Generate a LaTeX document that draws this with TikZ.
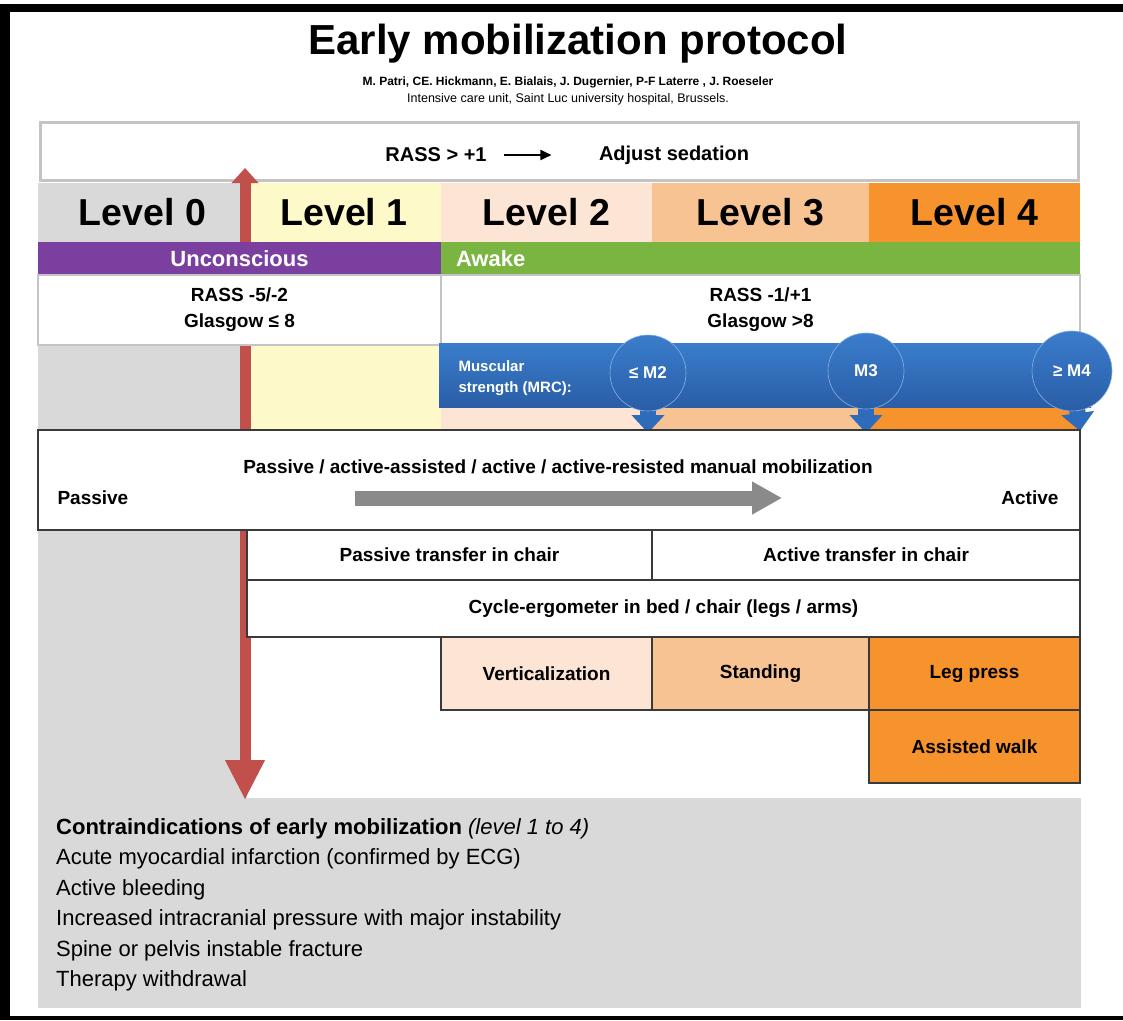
\documentclass[tikz,border=0pt]{standalone}
\usepackage{fontspec}
\setmainfont{Liberation Sans}
\usetikzlibrary{arrows.meta}
\definecolor{lvlzero}{HTML}{D9D9D9}
\definecolor{lvlone}{HTML}{FDF9C9}
\definecolor{lvltwo}{HTML}{FCE5D5}
\definecolor{lvlthree}{HTML}{F8C393}
\definecolor{lvlfour}{HTML}{F7932C}
\definecolor{purp}{HTML}{7A3F9F}
\definecolor{grn}{HTML}{7AB441}
\definecolor{bluetop}{HTML}{3A7DCC}
\definecolor{bluebot}{HTML}{2A5DA6}
\definecolor{bluemid}{HTML}{2F6BBB}
\definecolor{redarr}{HTML}{C1504D}
\definecolor{boxgray}{HTML}{C4C4C4}
\definecolor{edge}{HTML}{3A3A3A}
\definecolor{grayarr}{HTML}{8A8A8A}
\begin{document}
\begin{tikzpicture}[x=1pt,y=-1pt,
  cell/.style={anchor=north west, inner sep=0pt, outer sep=0pt, align=center, text=black},
  lvltxt/.style={font=\fontsize{37.5}{40}\selectfont\bfseries},
  boxtxt/.style={font=\fontsize{19}{22}\selectfont\bfseries},
  thinbox/.style={draw=edge, line width=1.3pt},
  whitetxt/.style={text=white, font=\fontsize{22}{26}\selectfont\bfseries},
  mcircle/.style={circle, minimum size=76pt, inner sep=0pt, top color=bluetop, bottom color=bluebot, draw=bluetop!60!white, line width=0.6pt, text=white, font=\fontsize{17}{20}\selectfont\bfseries},
  bluearrow/.style={draw=bluemid, line width=16pt, -{Triangle[width=32pt,length=18pt]}},
]
\useasboundingbox (0,0) rectangle (1123,1020);
\fill[white] (0,0) rectangle (1123,1020);
% frame
\fill[black] (0,4) rectangle (1123,12);
\fill[black] (0,4) rectangle (10,1020);
\fill[black] (0,1016) rectangle (1123,1020);

% title
\node[font=\fontsize{42}{46}\selectfont\bfseries] (title) at (578,44) {Early mobilization protocol};
\node[font=\fontsize{12}{14}\selectfont\bfseries] (authors) at (568,82) {M. Patri, CE. Hickmann, E. Bialais, J. Dugernier, P-F Laterre , J. Roeseler};
\node[font=\fontsize{12.5}{14}\selectfont] (affil) at (568,99) {Intensive care unit, Saint Luc university hospital, Brussels.};

% left gray column and bottom box
\fill[lvlzero] (38,183) rectangle (247,798);
\node[cell, fill=lvlzero, minimum width=1043pt, minimum height=210pt] (contra) at (38,798) {};
\node[anchor=north west, inner sep=0pt, align=left, font=\fontsize{22}{30.5}\selectfont] (contratxt) at (56,818)
 {{\bfseries Contraindications of early mobilization} \textit{(level 1 to 4)}\\
  Acute myocardial infarction (confirmed by ECG)\\
  Active bleeding\\
  Increased intracranial pressure with major instability\\
  Spine or pelvis instable fracture\\
  Therapy withdrawal};

% column backgrounds under the bars
\fill[lvlone] (247,345) rectangle (441,430);
\fill[lvltwo] (441,345) rectangle (652,430);
\fill[lvlthree] (652,345) rectangle (869,430);
\fill[lvlfour] (869,345) rectangle (1080,430);

% RASS bar
\node[cell, fill=white, draw=boxgray, line width=3pt, minimum width=1038pt, minimum height=58pt] (rassbar) at (40,122) {};
\node[font=\fontsize{20}{24}\selectfont\bfseries] (rassL) at (436,155) {RASS > +1};
\node[font=\fontsize{20}{24}\selectfont\bfseries] (rassR) at (674,155) {Adjust sedation};
\draw[line width=1.8pt, -{Triangle[width=10pt,length=11pt]}] (rassL.east) ++(14,0) coordinate (ra1) (ra1) -- ([xshift=-44pt]rassR.west);

% levels
\node[cell, lvltxt, fill=lvlzero, minimum width=209pt, minimum height=59pt] (l0) at (38,183) {Level 0};
\node[cell, lvltxt, fill=lvlone, minimum width=194pt, minimum height=59pt] (l1) at (247,183) {Level 1};
\node[cell, lvltxt, fill=lvltwo, minimum width=211pt, minimum height=59pt] (l2) at (441,183) {Level 2};
\node[cell, lvltxt, fill=lvlthree, minimum width=217pt, minimum height=59pt] (l3) at (652,183) {Level 3};
\node[cell, lvltxt, fill=lvlfour, minimum width=211pt, minimum height=59pt] (l4) at (869,183) {Level 4};

% red double arrow
\coordinate (redtop) at (245,168);
\coordinate (redbot) at (245,800);
\draw[redarr, line width=11pt, {Triangle[width=26pt,length=15pt]}-{Triangle[width=37pt,length=40pt]}] (redtop) -- (redbot);

% conscious bars
\node[cell, whitetxt, fill=purp, minimum width=403pt, minimum height=33pt] (unc) at (38,242) {Unconscious};
\node[cell, whitetxt, fill=grn, minimum height=33pt, text width=609pt, inner xsep=15pt, align=left] (awake) at (441,242) {Awake};

% RASS boxes
\node[cell, fill=white, draw=boxgray, line width=2pt, minimum width=403pt, minimum height=70pt, font=\fontsize{19}{26}\selectfont\bfseries] (rassA) at (38,275) {RASS -5/-2\\Glasgow ≤ 8};
\node[cell, fill=white, draw=boxgray, line width=2pt, minimum width=639pt, minimum height=70pt, font=\fontsize{19}{26}\selectfont\bfseries] (rassB) at (441,275) {RASS -1/+1\\Glasgow >8};

% muscular strength bar
\node[cell, top color=bluetop, bottom color=bluebot, minimum width=652pt, minimum height=64pt] (mrc) at (439,343) {};
\node[anchor=west, align=left, text=white, font=\fontsize{15}{21}\selectfont\bfseries] (mrctxt) at (455,378) {Muscular\\strength (MRC):};
\coordinate (m2tip) at (648,433);
\coordinate (m3tip) at (866,433);
\coordinate (m4tip) at (1080,431);
\coordinate (m2c) at (648,373);
\coordinate (m3c) at (866,371);
\coordinate (m4c) at (1072,371);
\draw[bluearrow] (m2c) -- (m2tip);
\draw[bluearrow] (m3c) -- (m3tip);
\draw[bluearrow] (m4c) -- (m4tip);
\node[mcircle] (m2) at (m2c) {≤ M2};
\node[mcircle] (m3) at (m3c) {M3};
\node[mcircle, minimum size=80pt] (m4) at (m4c) {≥ M4};

% passive / active box
\node[cell, fill=white, thinbox, minimum width=1042pt, minimum height=100pt] (pa) at (38,430) {};
\node[boxtxt] (patitle) at (558,467) {Passive / active-assisted / active / active-resisted manual mobilization};
\node[boxtxt, anchor=west] (pleft) at (54,498) {Passive};
\node[boxtxt, anchor=east] (pright) at (1062,498) {Active};
\coordinate (ga1) at (355,498);
\coordinate (ga2) at (782,498);
\draw[grayarr, line width=15pt, -{Triangle[width=31pt,length=30pt]}] (ga1) -- (ga2);

% activities
\node[cell, boxtxt, fill=white, thinbox, minimum width=405pt, minimum height=50pt] (ptrans) at (247,530) {Passive transfer in chair};
\node[cell, boxtxt, fill=white, thinbox, minimum width=428pt, minimum height=50pt] (atrans) at (652,530) {Active transfer in chair};
\node[cell, boxtxt, fill=white, thinbox, minimum width=833pt, minimum height=57pt] (cycle) at (247,580) {Cycle-ergometer in bed / chair (legs / arms)};
\node[cell, boxtxt, fill=lvltwo, thinbox, minimum width=211pt, minimum height=73pt] (vert) at (441,637) {Verticalization};
\node[cell, boxtxt, fill=lvlthree, thinbox, minimum width=217pt, minimum height=73pt] (stand) at (652,637) {Standing};
\node[cell, boxtxt, fill=lvlfour, thinbox, minimum width=211pt, minimum height=73pt] (leg) at (869,637) {Leg press};
\node[cell, boxtxt, fill=lvlfour, thinbox, minimum width=211pt, minimum height=73pt] (walk) at (869,710) {Assisted walk};
\end{tikzpicture}
\end{document}
